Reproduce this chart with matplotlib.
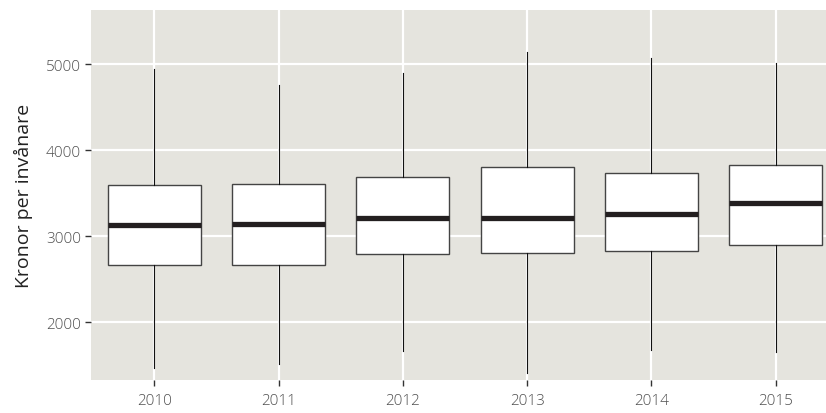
import matplotlib
matplotlib.use("Agg")
import matplotlib.pyplot as plt

years = ["2010", "2011", "2012", "2013", "2014", "2015"]
whisker_low = [1462, 1515, 1663, 1403, 1671, 1651]
q1 = [2669, 2662, 2790, 2805, 2832, 2899]
median = [3132, 3135, 3213, 3210, 3256, 3380]
q3 = [3598, 3610, 3688, 3800, 3738, 3831]
whisker_high = [4946, 4763, 4900, 5140, 5075, 5012]
y_ticks = [2000, 3000, 4000, 5000]
y_label = "Kronor per invånare"

plt.rcParams['font.family'] = ['Open Sans', 'DejaVu Sans']

fig = plt.figure(figsize=(8.26, 4.14), dpi=100)
ax = fig.add_axes([0.1098, 0.0797, 1.0 - 0.1098, 0.9734 - 0.0797])
ax.set_facecolor("#E5E4DE")

stats = []
for i, y in enumerate(years):
    stats.append(dict(label=y, whislo=whisker_low[i], q1=q1[i], med=median[i],
                      q3=q3[i], whishi=whisker_high[i], fliers=[]))

positions = list(range(len(years)))
ax.bxp(stats, positions=positions, widths=0.75, showfliers=False, showcaps=False,
       patch_artist=True,
       boxprops=dict(facecolor="white", edgecolor="#444444", linewidth=1.0),
       medianprops=dict(color="#231f20", linewidth=3.8, solid_capstyle="butt"),
       whiskerprops=dict(color="#111111", linewidth=0.8),
       zorder=3)

ax.set_xlim(-0.512, 5.405)
ax.set_ylim(1326, 5630)
ax.set_xticks(positions)
ax.set_xticklabels(years)
ax.set_yticks(y_ticks)
ax.set_yticklabels([str(v) for v in y_ticks])

ax.grid(True, color="white", linewidth=1.6, zorder=0)
ax.set_axisbelow(True)
for s in ax.spines.values():
    s.set_visible(False)

ax.tick_params(axis="both", length=4, width=1, color="#333333",
               labelcolor="#505050", labelsize=11, pad=3)
ax.tick_params(axis="x", pad=5)
for lab in ax.get_xticklabels() + ax.get_yticklabels():
    lab.set_fontweight("light")

ax.set_ylabel(y_label, fontsize=14, color="#222222", labelpad=9)

fig.savefig("out.png", dpi=100)
